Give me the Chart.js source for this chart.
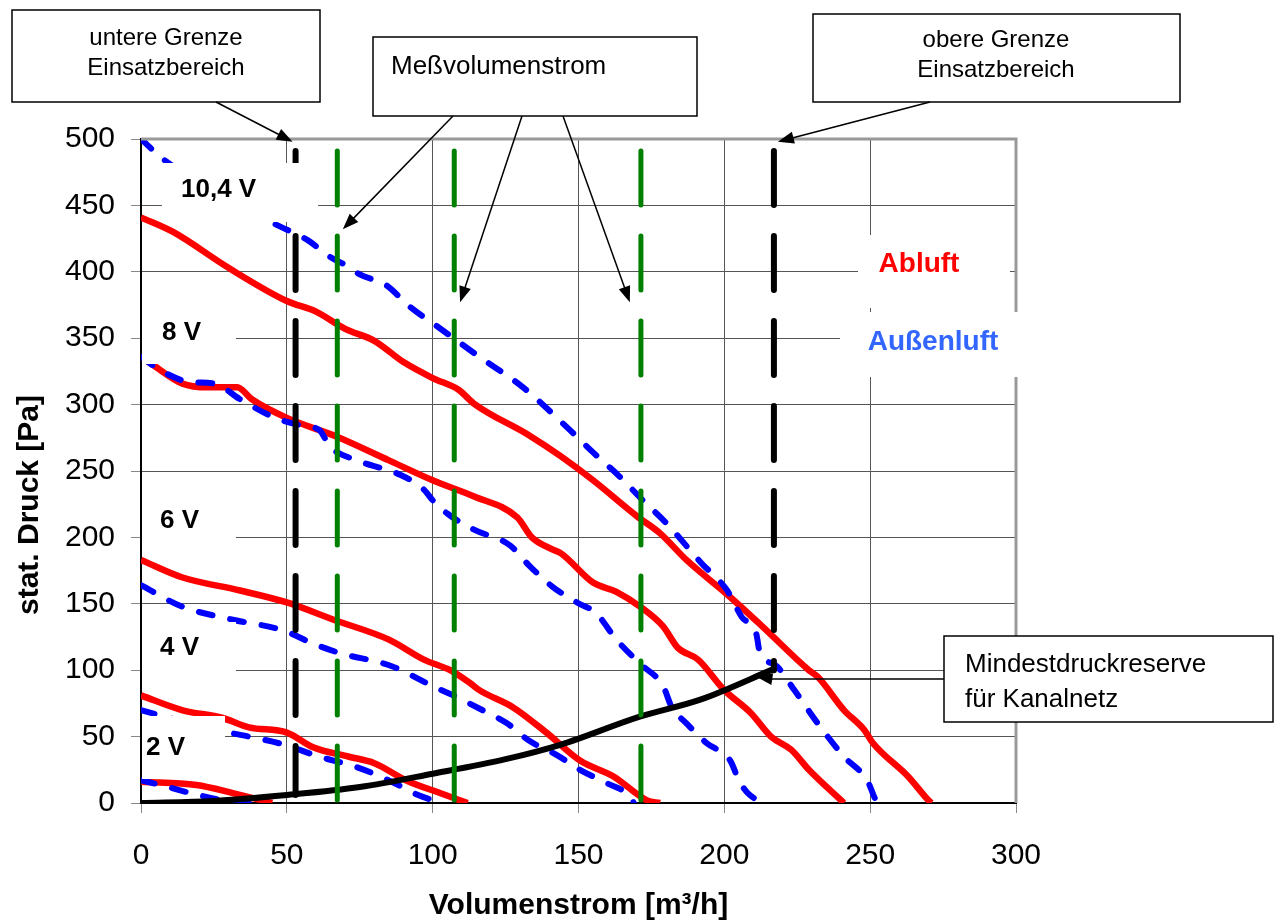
<!DOCTYPE html>
<html>
<head>
<meta charset="utf-8">
<script src="https://cdn.jsdelivr.net/npm/chart.js@4.4.1/dist/chart.umd.min.js"></script>
<style>
html, body { margin: 0; padding: 0; background: #fff; }
</style>
</head>
<body>
<canvas id="kennlinie" width="1279" height="921"></canvas>
<script>
// Kennlinien [Volumenstrom m³/h, stat. Druck Pa]
var abluft_10_4V = [[0,441],[11,430],[30,403],[50,378],[60,370],[70,357],[80,348],[90,332],[100,320],[109,311],[114,301],[133,277],[144,261],[155,243],[170,216],[178,203],[187,183],[201,157],[213,133],[229,100],[232,95],[241,70],[248,55],[251,45],[263,20],[270,2],[271,0]];
var aussen_10_4V = [[0,500],[7.5,485],[45,437],[57,424],[65,411],[71,404],[75,398],[84,390],[92,374],[101.5,359],[116,336],[131,313],[146,283],[155,264],[164,246],[172,228],[180,211],[192,181],[201,160],[206,140],[211,127],[212,115],[218,103],[224,85],[232,60],[241,35],[249,17],[252,2],[253,0]];
var abluft_8V = [[0,336],[4,330],[14,316],[23,313],[33,313],[38,304],[50,290],[67,276],[85,258],[100,243],[114,231],[129,215],[134,200],[141,191],[144,188],[155,166],[163,159],[171,148],[179,133],[184,117],[191,108],[200,85],[209,68],[216,50],[223,40],[229,25],[241,0]];
var aussen_8V = [[0,336],[6.5,326],[17,317],[25,316],[34,304],[45,291],[53.5,285],[61,281],[65,268],[74,258],[89,247],[97,236],[100,228],[105,218],[114,206],[126.5,194],[133,179],[141,163],[149.5,151],[156,143],[163,123],[171,105],[179,88],[182,72],[187,60],[194,45],[202,32],[205,17],[208,7.5],[213,0]];
var abluft_6V = [[0,183],[14,170],[34,160],[50,151],[66,138],[85,123],[97,108],[106,100],[113,90],[116,85],[127.6,72],[139,53],[150.5,32],[162,20],[173.5,2],[178,0]];
var aussen_6V = [[0,164],[14,148],[31.5,138],[48.7,130],[59,120],[68,113],[86,103],[100,88],[108,80],[117,70],[125.5,60],[133,47],[142.6,36],[150.5,25],[159.7,15],[167.6,5],[169,0]];
var abluft_4V = [[0,81],[14,70],[28,64],[37,57],[50,53],[59,42],[71,35],[80,30],[91,17],[102.5,7.5],[112,0]];
var aussen_4V = [[0,70],[13,62],[28,54],[37,50],[49,44],[61,35],[74,27],[85,17],[95,6],[103,0]];
var abluft_2V = [[0,16],[19,13.5],[31.5,7.5],[45,0]];
var aussen_2V = [[0,17],[4,15],[17,7.5],[28,2],[40,0]];
var mindestdruck = [[0,0],[25,1.5],[50,6],[75,12],[100,22],[125,33],[144,44],[171,65],[192,78],[217,101]];

// senkrechte Linien
var grenzenX = [53, 217];
var grenzenBis = [6, 100];
var messX = [67.3, 107.4, 171.4];
var linienOben = 491;

var xTicks = [0, 50, 100, 150, 200, 250, 300];
var yTicks = [0, 50, 100, 150, 200, 250, 300, 350, 400, 450, 500];

var FONT = "'Liberation Sans', Arial, Helvetica, sans-serif";

function kurve(punkte, farbe, breite, dash, glatt) {
    return {
        data: punkte.map(function (p) { return {x: p[0], y: p[1]}; }),
        borderColor: farbe,
        borderWidth: breite,
        borderDash: dash || [],
        borderCapStyle: dash ? 'round' : 'butt',
        borderJoinStyle: 'round',
        cubicInterpolationMode: glatt ? 'monotone' : 'default',
        pointRadius: 0,
        showLine: true,
        fill: false,
        tension: 0
    };
}

var datasets = [];
// zuerst eingetragen = oben gezeichnet
messX.forEach(function (x) {
    datasets.push(kurve([[x, linienOben], [x, 0]], '#008000', 5, [54, 31]));
});
grenzenX.forEach(function (x, i) {
    datasets.push(kurve([[x, linienOben], [x, grenzenBis[i]]], '#000000', 6, [54, 31]));
});
datasets.push(kurve(mindestdruck, '#000000', 6, null, true));
[aussen_10_4V, aussen_8V, aussen_6V, aussen_4V, aussen_2V].forEach(function (k) {
    datasets.push(kurve(k, '#0000ff', 6, [14, 18], true));
});
[abluft_10_4V, abluft_8V, abluft_6V, abluft_4V, abluft_2V].forEach(function (k) {
    datasets.push(kurve(k, '#ff0000', 6.5, null, true));
});

function textBox(ctx, x, y, w, h) {
    ctx.fillStyle = '#fff';
    ctx.fillRect(x, y, w, h);
    ctx.strokeStyle = '#000';
    ctx.lineWidth = 1.5;
    ctx.strokeRect(x, y, w, h);
}

function pfeil(ctx, x1, y1, x2, y2) {
    var a = Math.atan2(y2 - y1, x2 - x1);
    var len = 16, w = 6;
    ctx.strokeStyle = '#000';
    ctx.fillStyle = '#000';
    ctx.lineWidth = 1.5;
    ctx.beginPath();
    ctx.moveTo(x1, y1);
    ctx.lineTo(x2 - Math.cos(a) * len * 0.8, y2 - Math.sin(a) * len * 0.8);
    ctx.stroke();
    ctx.beginPath();
    ctx.moveTo(x2, y2);
    ctx.lineTo(x2 - Math.cos(a) * len + Math.sin(a) * w, y2 - Math.sin(a) * len - Math.cos(a) * w);
    ctx.lineTo(x2 - Math.cos(a) * len - Math.sin(a) * w, y2 - Math.sin(a) * len + Math.cos(a) * w);
    ctx.closePath();
    ctx.fill();
}

var beschriftung = {
    id: 'beschriftung',
    afterDatasetsDraw: function (chart) {
        var ctx = chart.ctx;
        var ca = chart.chartArea;
        ctx.save();
        // Rahmen oben/rechts grau
        ctx.strokeStyle = '#999';
        ctx.lineWidth = 3;
        ctx.beginPath();
        ctx.moveTo(ca.left, ca.top);
        ctx.lineTo(ca.right, ca.top);
        ctx.lineTo(ca.right, ca.bottom);
        ctx.stroke();

        // weisse Felder fuer Spannungen und Legende
        ctx.fillStyle = '#fff';
        ctx.fillRect(162, 163, 156, 59);
        ctx.fillRect(ca.left + 1, 307, 94, 57);
        ctx.fillRect(ca.left + 1, 495, 94, 58);
        ctx.fillRect(ca.left + 1, 622, 94, 58);
        ctx.fillRect(ca.left + 1, 716, 83, 63);
        ctx.fillRect(858, 235, 152, 73);
        ctx.fillRect(840, 312, 180, 65);

        ctx.fillStyle = '#000';
        ctx.font = 'bold 26px ' + FONT;
        ctx.textBaseline = 'middle';
        ctx.textAlign = 'left';
        ctx.fillText('10,4 V', 181, 190);
        ctx.fillText('8 V', 162, 333);
        ctx.fillText('6 V', 160, 521);
        ctx.fillText('4 V', 160, 648);
        ctx.fillText('2 V', 146, 748);

        ctx.textAlign = 'center';
        ctx.font = 'bold 28px ' + FONT;
        ctx.fillStyle = '#ff0000';
        ctx.fillText('Abluft', 919, 264);
        ctx.fillStyle = '#3366ff';
        ctx.fillText('Außenluft', 933, 342);
        ctx.restore();
    },
    afterDraw: function (chart) {
        var ctx = chart.ctx;
        var xs = chart.scales.x, ys = chart.scales.y;
        ctx.save();
        // Achsentitel
        ctx.fillStyle = '#000';
        ctx.font = 'bold 30px ' + FONT;
        ctx.textAlign = 'center';
        ctx.textBaseline = 'middle';
        ctx.fillText('Volumenstrom [m³/h]', (chart.chartArea.left + chart.chartArea.right) / 2, 906);
        ctx.save();
        ctx.translate(30, 505);
        ctx.rotate(-Math.PI / 2);
        ctx.fillText('stat. Druck [Pa]', 0, 0);
        ctx.restore();

        // Textkaesten
        ctx.font = '24px ' + FONT;
        textBox(ctx, 12, 10, 308, 92);
        textBox(ctx, 373, 37, 324, 79);
        textBox(ctx, 813, 14, 367, 88);
        textBox(ctx, 944, 636, 329, 86);
        ctx.fillStyle = '#000';
        ctx.textAlign = 'center';
        ctx.fillText('untere Grenze', 166, 38);
        ctx.fillText('Einsatzbereich', 166, 68);
        ctx.fillText('obere Grenze', 996, 40);
        ctx.fillText('Einsatzbereich', 996, 70);
        ctx.textAlign = 'left';
        ctx.font = '26px ' + FONT;
        ctx.fillText('Meßvolumenstrom', 391, 67);
        ctx.fillText('Mindestdruckreserve', 965, 665);
        ctx.fillText('für Kanalnetz', 965, 700);

        // Pfeile
        function px(x) { return xs.getPixelForValue(x); }
        function py(y) { return ys.getPixelForValue(y); }
        pfeil(ctx, 216, 102, px(grenzenX[0]) - 3, py(498));
        pfeil(ctx, 930, 102, px(grenzenX[1]) + 4, py(498));
        pfeil(ctx, 453, 116, px(69.2), py(432));
        pfeil(ctx, 522, 116, px(109.4), py(377));
        pfeil(ctx, 563, 116, px(167.6), py(377));
        ctx.lineWidth = 1.5;
        ctx.beginPath();
        ctx.moveTo(944, 679);
        ctx.lineTo(px(214), 679);
        ctx.stroke();
        pfeil(ctx, px(216), 679, px(211), py(95));
        ctx.restore();
    }
};

var kennlinie = new Chart(document.getElementById('kennlinie'), {
    type: 'scatter',
    data: { datasets: datasets },
    options: {
        responsive: false,
        animation: false,
        devicePixelRatio: 1,
        layout: { padding: { left: 0, top: 139, right: 263, bottom: 0 } },
        plugins: { legend: { display: false }, tooltip: { enabled: false } },
        scales: {
            x: {
                type: 'linear', min: 0, max: 300,
                afterFit: function (s) { s.height = 118; },
                afterBuildTicks: function (s) { s.ticks = xTicks.map(function (v) { return {value: v}; }); },
                ticks: { color: '#000', font: { family: FONT, size: 30 }, padding: 25 },
                grid: { color: '#555', lineWidth: 1, tickLength: 10, tickColor: '#888' },
                border: { color: '#000', width: 2 }
            },
            y: {
                type: 'linear', min: 0, max: 500,
                afterFit: function (s) { s.width = 141; },
                afterBuildTicks: function (s) { s.ticks = yTicks.map(function (v) { return {value: v}; }); },
                ticks: { color: '#000', font: { family: FONT, size: 30 }, padding: 16 },
                grid: { color: '#555', lineWidth: 1, tickLength: 10, tickColor: '#888' },
                border: { color: '#000', width: 2 }
            }
        }
    },
    plugins: [beschriftung]
});
</script>
</body>
</html>
